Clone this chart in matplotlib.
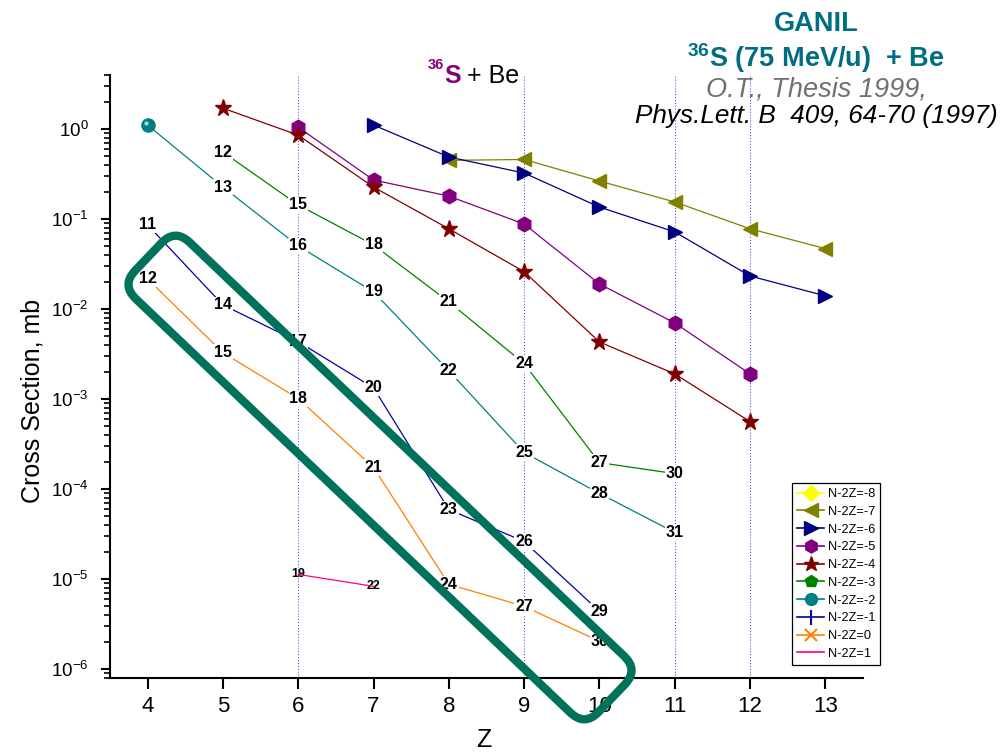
import numpy as np
import matplotlib
matplotlib.use('Agg')
import matplotlib.pyplot as plt
import matplotlib.ticker as mticker
from matplotlib import font_manager
from matplotlib.lines import Line2D
from matplotlib.patches import FancyBboxPatch
from matplotlib.transforms import Affine2D, ScaledTranslation

names = {f.name for f in font_manager.fontManager.ttflist}
narrow = 'Liberation Sans Narrow' if 'Liberation Sans Narrow' in names else 'Liberation Sans'

plt.rcParams['font.family'] = ['Liberation Sans', 'DejaVu Sans']
plt.rcParams['mathtext.fontset'] = 'custom'
plt.rcParams['mathtext.rm'] = narrow
plt.rcParams['mathtext.bf'] = 'Liberation Sans:bold'
plt.rcParams['mathtext.it'] = 'Liberation Sans:italic'

# cross sections (mb) vs Z, one array per isospin chain N-2Z
z_m8, sig_m8 = [], []
z_m7 = [8, 9, 10, 11, 12, 13]
sig_m7 = [0.45, 0.46, 0.265, 0.155, 0.078, 0.047]
z_m6 = [7, 8, 9, 10, 11, 12, 13]
sig_m6 = [1.11, 0.49, 0.325, 0.136, 0.072, 0.0233, 0.014]
z_m5 = [6, 7, 8, 9, 10, 11, 12]
sig_m5 = [1.05, 0.272, 0.18, 0.088, 0.019, 0.0070, 0.0019]
z_m4 = [5, 6, 7, 8, 9, 10, 11, 12]
sig_m4 = [1.71, 0.857, 0.227, 0.078, 0.026, 0.0043, 0.0019, 0.00056]
z_m3 = [5, 6, 7, 8, 9, 10, 11]
sig_m3 = [0.556, 0.1435, 0.0516, 0.012, 0.00247, 0.000196, 0.000148]
z_m2 = [4, 5, 6, 7, 8, 9, 10, 11]
sig_m2 = [1.11, 0.227, 0.0503, 0.0155, 0.00206, 0.000254, 8.9e-5, 3.28e-5]
z_m1 = [4, 5, 6, 7, 8, 9, 10]
sig_m1 = [0.0861, 0.0111, 0.00433, 0.00133, 5.9e-5, 2.6e-5, 4.35e-6]
z_0 = [4, 5, 6, 7, 8, 9, 10]
sig_0 = [0.0216, 0.00327, 0.00101, 0.000173, 8.7e-6, 4.95e-6, 2.02e-6]
z_p1 = [6, 7]
sig_p1 = [1.12e-5, 8.26e-6]

guide_z = [6, 9, 11, 12]
z_ticks = list(range(4, 14))
decades = [-6, -5, -4, -3, -2, -1, 0]

# (N-2Z, z, sigma, colour, marker, marker size, points drawn with marker)
series = [
    (-8, z_m8, sig_m8, '#FFFF00', 'D', 9, None),
    (-7, z_m7, sig_m7, '#808000', '<', 10.5, None),
    (-6, z_m6, sig_m6, '#000080', '>', 10.5, None),
    (-5, z_m5, sig_m5, '#800080', 'h', 10.5, None),
    (-4, z_m4, sig_m4, '#800000', '*', 12.5, None),
    (-3, z_m3, sig_m3, '#008000', 'p', 10, 0),
    (-2, z_m2, sig_m2, '#008080', 'o', 9.5, 1),
    (-1, z_m1, sig_m1, '#0000A0', '|', 12, 0),
    (0, z_0, sig_0, '#FF8000', 'x', 10, 0),
    (1, z_p1, sig_p1, '#FF0080', '', 0, 0),
]

fig = plt.figure(figsize=(10.06, 7.56), dpi=100)
ax = fig.add_axes([110 / 1006, 1 - 678 / 756, 753 / 1006, 603 / 756])

for zv in guide_z:
    ax.axvline(zv, color='#3030FF', ls=(0, (1, 2)), lw=0.7, zorder=1)

shine = ax.transData + ScaledTranslation(-1.5 / 72, 1.5 / 72, fig.dpi_scale_trans)

handles = []
for k, z, s, col, mk, ms, n_mark in series:
    ax.plot(z, s, color=col, lw=0.9, zorder=2)
    n = len(z) if n_mark is None else n_mark
    if n and mk:
        ax.plot(z[:n], s[:n], ls='none', marker=mk, ms=ms, color=col,
                mec=col, zorder=4)
        if mk == 'o':
            ax.plot(z[:n], s[:n], ls='none', marker='o', ms=3, color='#9fe0e0',
                    mec='none', zorder=4.5, transform=shine)
    for zi, si in zip(z[n:], s[n:]):
        a = 3 * zi + k
        if k == 1:
            ax.text(zi, si, str(a), ha='center', va='center', fontsize=9,
                    weight='bold', zorder=1.5)
        else:
            ax.text(zi, si, str(a), ha='center', va='center', fontsize=11.5,
                    weight='bold', zorder=3,
                    bbox=dict(fc='white', ec='none', pad=0.6))
    handles.append(Line2D([], [], color=col, lw=1.2, marker=mk or None,
                          ms=ms * 0.9, mec=col, mew=1.5 if mk in 'x|' else 1))

labels = [f'N-2Z={k}' for k, *_ in series]
leg = ax.legend(handles, labels, loc='upper left',
                bbox_to_anchor=((792 - 110) / 753, (678 - 483) / 603),
                fontsize=9.2, frameon=True, fancybox=False, edgecolor='black',
                framealpha=1, handlelength=2.1, labelspacing=0.45,
                borderpad=0.4, handletextpad=0.3, borderaxespad=0)
leg.get_frame().set_linewidth(0.9)

ax.set_yscale('log')
ax.set_ylim(7.9e-7, 4)
ax.set_xlim(3.5, 13.5)
ax.set_xticks(z_ticks)
ax.yaxis.set_major_locator(mticker.FixedLocator([10.0 ** d for d in decades]))
ax.yaxis.set_minor_locator(mticker.LogLocator(base=10, subs=range(2, 10), numticks=20))
ax.yaxis.set_major_formatter(mticker.FuncFormatter(
    lambda v, p: r'$\mathrm{10^{%d}}$' % round(np.log10(v))))
ax.yaxis.set_minor_formatter(mticker.NullFormatter())

for side in ['top', 'right']:
    ax.spines[side].set_visible(False)
for side in ['left', 'bottom']:
    ax.spines[side].set_linewidth(1.5)
ax.tick_params(axis='x', direction='out', length=8, width=1.5, pad=5,
               labelsize=16)
ax.tick_params(axis='y', which='major', direction='out', length=6.5, width=1.5,
               pad=9, labelsize=13.5)
ax.tick_params(axis='y', which='minor', direction='out', length=4, width=1.2)
for lab in ax.get_xticklabels():
    lab.set_family(narrow)

ax.set_xlabel('Z', fontsize=18, va='center')
ax.set_ylabel('Cross Section, mb', fontsize=18, va='center')
ax.xaxis.set_label_coords((484 - 110) / 753, (678 - 740) / 603)
ax.yaxis.set_label_coords((32 - 110) / 753, (678 - 401) / 603)

teal = '#006E82'
cx = 816 / 1006
fig.text(cx, 1 - 31 / 756, 'GANIL', ha='center', va='baseline', fontsize=19.5,
         weight='bold', color=teal)
fig.text(cx, 1 - 67 / 756, r'$^{\mathbf{36}}$S (75 MeV/u)  + Be', ha='center',
         va='baseline', fontsize=19.5, weight='bold', color=teal)
fig.text(cx, 1 - 96 / 756, 'O.T., Thesis 1999,', ha='center', va='baseline',
         fontsize=19.5, style='italic', color='#707070')
fig.text(cx, 1 - 123 / 756, 'Phys.Lett. B  409, 64-70 (1997)', ha='center',
         va='baseline', fontsize=18.8, style='italic', color='black')

fig.text(428 / 1006, 1 - 69 / 756, '36', fontsize=10.5, weight='bold',
         color='#800080', va='baseline')
fig.text(444 / 1006, 1 - 83 / 756, 'S', fontsize=18, weight='bold',
         color='#800080', va='baseline')
fig.text(467 / 1006, 1 - 83 / 756, '+ Be', fontsize=18, color='black',
         va='baseline')

# highlighted band around the N-2Z=-1 and 0 chains
L, W, r = 640, 78, 20
band = FancyBboxPatch((-L / 2, -W / 2), L, W,
                      boxstyle=f'round,pad=0,rounding_size={r}',
                      transform=Affine2D().rotate_deg(-43.6)
                      .translate(380, 756 - 477.5).scale(1 / 1006, 1 / 756)
                      + fig.transFigure,
                      fill=False, ec='#00725C', lw=6, zorder=5)
fig.add_artist(band)

fig.savefig('out.png', dpi=100)
